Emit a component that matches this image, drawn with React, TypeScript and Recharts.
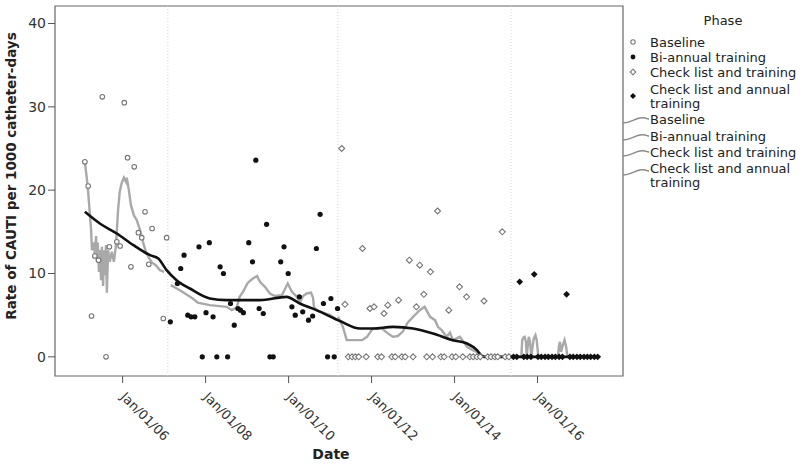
import {
  ComposedChart,
  Scatter,
  Line,
  XAxis,
  YAxis,
  ReferenceLine,
  ReferenceArea,
} from "recharts";

// [decimal year, rate per 1000 catheter-days]
const baseline: [number, number][] = [
  [2005.09, 23.4], [2005.17, 20.5], [2005.25, 4.9], [2005.33, 12.1], [2005.42, 11.6],
  [2005.51, 31.2], [2005.6, 0], [2005.68, 13.2], [2005.86, 13.8], [2005.94, 13.3],
  [2006.04, 30.5], [2006.12, 23.9], [2006.2, 10.8], [2006.28, 22.8], [2006.38, 14.9],
  [2006.46, 14.3], [2006.54, 17.4], [2006.63, 11.1], [2006.71, 15.4], [2006.98, 4.6],
  [2007.06, 14.3],
];

const biAnnual: [number, number][] = [
  [2007.15, 4.2], [2007.32, 8.8], [2007.4, 10.6], [2007.48, 12.2], [2007.57, 5.0],
  [2007.65, 4.8], [2007.74, 4.8], [2007.84, 13.2], [2007.92, 0], [2008.01, 5.3],
  [2008.09, 13.7], [2008.18, 4.8], [2008.27, 0], [2008.35, 10.8], [2008.43, 10.0],
  [2008.53, 0], [2008.6, 6.4], [2008.69, 3.8], [2008.78, 5.8], [2008.84, 5.6],
  [2008.91, 5.3], [2009.04, 13.7], [2009.13, 11.4], [2009.21, 23.6], [2009.29, 5.8],
  [2009.39, 5.2], [2009.47, 15.9], [2009.55, 0], [2009.63, 0], [2009.81, 11.4],
  [2009.89, 13.2], [2009.99, 10.0], [2010.08, 6.0], [2010.16, 5.0], [2010.26, 7.2],
  [2010.34, 5.4], [2010.48, 4.4], [2010.58, 4.9], [2010.67, 13.0], [2010.76, 17.1],
  [2010.84, 6.4], [2010.94, 0], [2011.02, 7.0], [2011.1, 0], [2011.18, 5.8],
];

const checkListTraining: [number, number][] = [
  [2011.28, 25.0], [2011.36, 6.3], [2011.44, 0], [2011.53, 0], [2011.61, 0],
  [2011.69, 0], [2011.78, 13.0], [2011.87, 0], [2011.96, 5.8], [2012.06, 6.0],
  [2012.15, 0], [2012.24, 0], [2012.3, 5.2], [2012.39, 6.2], [2012.49, 0],
  [2012.57, 0], [2012.65, 6.8], [2012.73, 0], [2012.81, 0], [2012.91, 11.6],
  [2013.0, 0], [2013.08, 6.0], [2013.16, 11.0], [2013.26, 7.5], [2013.33, 0],
  [2013.42, 10.2], [2013.47, 0], [2013.59, 17.5], [2013.67, 0], [2013.75, 0],
  [2013.86, 5.6], [2013.94, 0], [2014.03, 0], [2014.12, 8.4], [2014.2, 0],
  [2014.29, 7.2], [2014.37, 0], [2014.45, 0], [2014.54, 0], [2014.62, 0],
  [2014.71, 6.7], [2014.8, 0], [2014.88, 0], [2014.97, 0], [2015.04, 0],
  [2015.15, 15.0], [2015.22, 0], [2015.31, 0],
];

const checkListAnnual: [number, number][] = [
  [2015.42, 0], [2015.5, 0], [2015.57, 9.0], [2015.67, 0], [2015.75, 0],
  [2015.84, 0], [2015.92, 9.9], [2016.01, 0], [2016.09, 0], [2016.18, 0],
  [2016.26, 0], [2016.35, 0], [2016.43, 0], [2016.52, 0], [2016.6, 0],
  [2016.7, 7.5], [2016.78, 0], [2016.86, 0], [2016.95, 0], [2017.03, 0],
  [2017.12, 0], [2017.2, 0], [2017.28, 0], [2017.37, 0], [2017.45, 0],
];

// per-phase smoothers (grey)
const baselineFit: [number, number][] = [
  [2005.09, 23.4], [2005.16, 20.4], [2005.24, 15.2], [2005.26, 12.8], [2005.31, 13.7],
  [2005.33, 12.2], [2005.36, 14.5], [2005.38, 11.4], [2005.4, 13.7], [2005.43, 10.2],
  [2005.45, 12.8], [2005.48, 9.2], [2005.5, 13.2], [2005.53, 8.5], [2005.55, 12.8],
  [2005.57, 9.8], [2005.6, 13.4], [2005.62, 7.7], [2005.65, 12.8], [2005.69, 11.4],
  [2005.74, 12.6], [2005.79, 11.4], [2005.84, 13.4], [2005.89, 17.6], [2005.93, 19.8],
  [2005.98, 20.9], [2006.03, 21.5], [2006.08, 21.0], [2006.1, 21.5], [2006.15, 20.0],
  [2006.2, 18.2], [2006.27, 17.0], [2006.34, 16.4], [2006.42, 15.2], [2006.49, 13.8],
  [2006.56, 12.6], [2006.63, 11.9], [2006.71, 11.3], [2006.8, 11.0], [2006.9, 10.4],
  [2007.0, 10.2],
];

const biAnnualFit: [number, number][] = [
  [2007.16, 8.6], [2007.38, 8.0], [2007.69, 7.0], [2007.81, 6.5], [2008.1, 6.2],
  [2008.51, 6.0], [2008.63, 5.6], [2008.75, 5.9], [2008.82, 7.2], [2008.9, 7.8],
  [2009.02, 8.9], [2009.14, 9.4], [2009.24, 9.7], [2009.31, 9.0], [2009.43, 8.4],
  [2009.55, 7.6], [2009.67, 7.3], [2009.84, 7.4], [2009.94, 8.4], [2009.98, 8.8],
  [2010.08, 7.8], [2010.2, 7.2], [2010.27, 6.5], [2010.35, 7.3], [2010.44, 7.6],
  [2010.54, 7.7], [2010.59, 7.1], [2010.61, 6.0], [2010.68, 5.6], [2010.83, 5.3],
  [2011.0, 5.0], [2011.17, 4.4],
];

const checkListTrainingFit: [number, number][] = [
  [2011.19, 4.8], [2011.31, 3.6], [2011.4, 2.0], [2011.55, 2.0], [2011.77, 2.0],
  [2011.89, 2.4], [2012.03, 3.4], [2012.25, 3.4], [2012.37, 2.9], [2012.51, 2.4],
  [2012.63, 2.5], [2012.75, 3.0], [2012.87, 4.1], [2013.0, 4.8], [2013.16, 5.6],
  [2013.28, 6.0], [2013.41, 4.8], [2013.53, 4.4], [2013.6, 3.6], [2013.69, 3.2],
  [2013.81, 2.4], [2013.89, 2.9], [2013.96, 2.0], [2014.13, 2.4], [2014.3, 1.2],
  [2014.44, 0.8], [2014.61, 0.4], [2014.68, 0], [2015.36, 0],
];

const checkListAnnualFit: [number, number][] = [
  [2015.4, 0], [2015.61, 0], [2015.63, 2.0], [2015.66, 2.3], [2015.69, 2.4],
  [2015.72, 1.8], [2015.74, 0], [2015.77, 1.6], [2015.79, 2.4], [2015.82, 1.8],
  [2015.85, 0], [2015.88, 1.2], [2015.91, 2.2], [2015.95, 2.6], [2015.98, 2.0],
  [2016.02, 0], [2016.49, 0], [2016.52, 1.4], [2016.54, 1.8], [2016.57, 0.6],
  [2016.61, 1.4], [2016.65, 2.0], [2016.69, 1.2], [2016.72, 0], [2017.45, 0],
];

// overall smoother (black)
const overallFit: [number, number][] = [
  [2005.09, 17.4], [2005.45, 16.0], [2005.86, 14.8], [2006.26, 13.4], [2006.66, 12.2],
  [2006.86, 11.8], [2007.06, 10.4], [2007.3, 9.2], [2007.62, 8.2], [2008.1, 7.0],
  [2008.51, 6.8], [2008.91, 6.8], [2009.31, 6.8], [2009.95, 7.2], [2010.27, 6.4],
  [2010.67, 5.6], [2011.24, 4.3], [2011.72, 3.4], [2012.03, 3.4], [2012.52, 3.6],
  [2013.0, 3.4], [2013.48, 2.8], [2013.96, 2.0], [2014.3, 1.6], [2014.54, 0.8],
  [2014.66, 0.1], [2014.73, 0], [2017.45, 0],
];

const phaseStarts = [2007.09, 2011.19, 2015.36];
const xTicks = [2006, 2008, 2010, 2012, 2014, 2016];
const yTicks = [0, 10, 20, 30, 40];
const X_DOMAIN: [number, number] = [2004.37, 2018.06];
const Y_DOMAIN: [number, number] = [-2.3, 42.1];

const FONT = "'DejaVu Sans', sans-serif";
const TEXT = "#333";
const GREY_LINE = "#a9a9a9";

const toRows = (pts: [number, number][]) => pts.map(([x, y]) => ({ x, y }));

function OpenCircle(props: any) {
  return <circle cx={props.cx} cy={props.cy} r={2.3} fill="#fff" stroke="#777" strokeWidth={1.1} />;
}

function FilledCircle(props: any) {
  return <circle cx={props.cx} cy={props.cy} r={2.6} fill="#111" />;
}

function diamondPath(cx: number, cy: number, r: number) {
  return `M${cx},${cy - r}L${cx + r},${cy}L${cx},${cy + r}L${cx - r},${cy}Z`;
}

function OpenDiamond(props: any) {
  return <path d={diamondPath(props.cx, props.cy, 3)} fill="#fff" stroke="#777" strokeWidth={1.1} />;
}

function FilledDiamond(props: any) {
  return <path d={diamondPath(props.cx, props.cy, 3.4)} fill="#111" />;
}

function DateTick({ x, y, payload }: any) {
  const yr = String(payload.value).slice(2);
  return (
    <g transform={`translate(${x + 4},${y + 6})`}>
      <text
        transform="rotate(45)"
        textAnchor="start"
        dominantBaseline="hanging"
        fontFamily={FONT}
        fontSize={13}
        fill={TEXT}
      >
        {`Jan/01/${yr}`}
      </text>
    </g>
  );
}

function Wave({ y }: { y: number }) {
  return (
    <path
      d={`M623,${y + 3} C630,${y + 3} 634,${y - 1} 640,${y - 2} S647,${y - 1} 649,${y - 1}`}
      fill="none"
      stroke="#8a8a8a"
      strokeWidth={1.3}
    />
  );
}

function LegendText({ y, children }: { y: number; children: string }) {
  return (
    <text x={650} y={y} dominantBaseline="central" fontFamily={FONT} fontSize={13} fill="#222">
      {children}
    </text>
  );
}

export default function App() {
  return (
    <div style={{ position: "absolute", left: 0, top: 0, width: 800, height: 465, background: "#fff" }}>
      <ComposedChart
        width={800}
        height={465}
        margin={{ top: 6, right: 177, bottom: 0, left: 0 }}
      >
        <XAxis
          dataKey="x"
          type="number"
          domain={X_DOMAIN}
          ticks={xTicks}
          allowDataOverflow
          tick={<DateTick />}
          tickSize={7}
          tickLine={{ stroke: "#555" }}
          axisLine={false}
          height={89}
          interval={0}
        />
        <YAxis
          dataKey="y"
          type="number"
          domain={Y_DOMAIN}
          ticks={yTicks}
          allowDataOverflow
          width={55}
          tickSize={7}
          tickLine={{ stroke: "#555" }}
          axisLine={false}
          tick={{ fontFamily: FONT, fontSize: 14, fill: TEXT }}
          interval={0}
        />
        <ReferenceArea
          x1={X_DOMAIN[0]}
          x2={X_DOMAIN[1]}
          y1={Y_DOMAIN[0]}
          y2={Y_DOMAIN[1]}
          fill="none"
          stroke="#666"
          strokeWidth={1.2}
          ifOverflow="visible"
        />
        {phaseStarts.map((p) => (
          <ReferenceLine key={p} x={p} stroke="#d4d4d4" strokeDasharray="1 2" />
        ))}

        <Scatter name="Baseline" data={toRows(baseline)} shape={<OpenCircle />} isAnimationActive={false} />
        <Scatter name="Bi-annual training" data={toRows(biAnnual)} shape={<FilledCircle />} isAnimationActive={false} />
        <Scatter name="Check list and training" data={toRows(checkListTraining)} shape={<OpenDiamond />} isAnimationActive={false} />
        <Scatter name="Check list and annual training" data={toRows(checkListAnnual)} shape={<FilledDiamond />} isAnimationActive={false} />

        {[baselineFit, biAnnualFit, checkListTrainingFit, checkListAnnualFit].map((pts, i) => (
          <Line
            key={i}
            data={toRows(pts)}
            dataKey="y"
            type="linear"
            stroke={GREY_LINE}
            strokeWidth={2.4}
            dot={false}
            activeDot={false}
            isAnimationActive={false}
          />
        ))}
        <Line
          data={toRows(overallFit)}
          dataKey="y"
          type="monotone"
          stroke="#111"
          strokeWidth={2.6}
          dot={false}
          activeDot={false}
          isAnimationActive={false}
        />
      </ComposedChart>

      <svg width={800} height={465} style={{ position: "absolute", left: 0, top: 0, pointerEvents: "none" }}>
        <text
          transform="translate(16,176) rotate(-90)"
          textAnchor="middle"
          fontFamily={FONT}
          fontSize={13.5}
          fontWeight="bold"
          fill="#222"
        >
          Rate of CAUTI per 1000 catheter-days
        </text>
        <text x={331} y={459} textAnchor="middle" fontFamily={FONT} fontSize={14} fontWeight="bold" fill="#222">
          Date
        </text>

        <text x={723} y={20} textAnchor="middle" dominantBaseline="central" fontFamily={FONT} fontSize={13} fill="#222">
          Phase
        </text>
        <circle cx={633} cy={42} r={2.2} fill="#fff" stroke="#777" strokeWidth={1.1} />
        <LegendText y={42}>Baseline</LegendText>
        <circle cx={633} cy={57} r={2.4} fill="#111" />
        <LegendText y={57}>Bi-annual training</LegendText>
        <path d={diamondPath(633, 72, 2.8)} fill="#fff" stroke="#777" strokeWidth={1.1} />
        <LegendText y={72}>Check list and training</LegendText>
        <path d={diamondPath(633, 96, 3)} fill="#111" />
        <LegendText y={89}>Check list and annual</LegendText>
        <LegendText y={103}>training</LegendText>

        <Wave y={120} />
        <LegendText y={119}>Baseline</LegendText>
        <Wave y={137} />
        <LegendText y={136}>Bi-annual training</LegendText>
        <Wave y={153} />
        <LegendText y={152}>Check list and training</LegendText>
        <Wave y={172} />
        <LegendText y={168}>Check list and annual</LegendText>
        <LegendText y={182}>training</LegendText>
      </svg>
    </div>
  );
}
